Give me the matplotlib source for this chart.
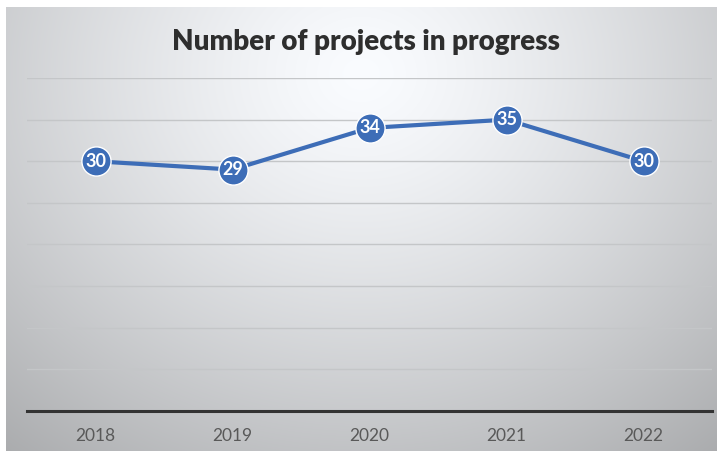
import numpy as np
import matplotlib.pyplot as plt

years = ['2018', '2019', '2020', '2021', '2022']
projects = [30, 29, 34, 35, 30]
title = 'Number of projects in progress'

line_color = '#3d6db7'
plt.rcParams['font.family'] = ['Lato', 'DejaVu Sans']

fig = plt.figure(figsize=(7.17, 4.51), dpi=100)
fig.patch.set_facecolor('white')

# radial gradient background
bg = fig.add_axes([6 / 717, 0, 711 / 717, 444 / 451], zorder=0)
yy, xx = np.mgrid[0:1:300j, 0:1:480j]
r = np.sqrt(((xx - 0.5) / 0.72) ** 2 + ((yy - 0.85) / 1.0) ** 2)
shade = np.clip(1.0 - 0.28 * r ** 1.3, 0, 1)
rgb = np.dstack([shade * 0.98, shade * 0.988, shade])
bg.imshow(rgb, origin='lower', aspect='auto', extent=[0, 1, 0, 1], interpolation='bicubic')
bg.axis('off')

ax = fig.add_axes([27 / 717, 40 / 451, 685 / 717, 333 / 451], zorder=1)
ax.patch.set_alpha(0)
x = np.arange(len(years))
ax.plot(x, projects, color=line_color, lw=3.0, zorder=3,
        marker='o', markersize=21, markerfacecolor=line_color,
        markeredgecolor='white', markeredgewidth=1.0)
for xi, v in zip(x, projects):
    ax.text(xi, v, str(v), ha='center', va='center', color='white',
            fontsize=13, fontweight='bold', zorder=4)

ax.set_xlim(-0.5, len(years) - 0.5)
ax.set_ylim(0, 40)
ax.set_yticks(np.arange(5, 41, 5))
ax.yaxis.grid(True, color='#c4c6c8', lw=1.0)
ax.set_axisbelow(True)
ax.tick_params(axis='y', left=False, labelleft=False)
ax.set_xticks(x)
ax.set_xticklabels(years, fontsize=12.5, color='#595959')
ax.tick_params(axis='x', length=0, pad=12)
for s in ['top', 'right', 'left']:
    ax.spines[s].set_visible(False)
ax.spines['bottom'].set_color('#333333')
ax.spines['bottom'].set_linewidth(2.2)

fig.text(0.51, 1 - 42 / 451, title, ha='center', va='center',
         fontsize=20, fontweight='heavy', color='#2e2e2e')

fig.savefig('out.png', dpi=100)
